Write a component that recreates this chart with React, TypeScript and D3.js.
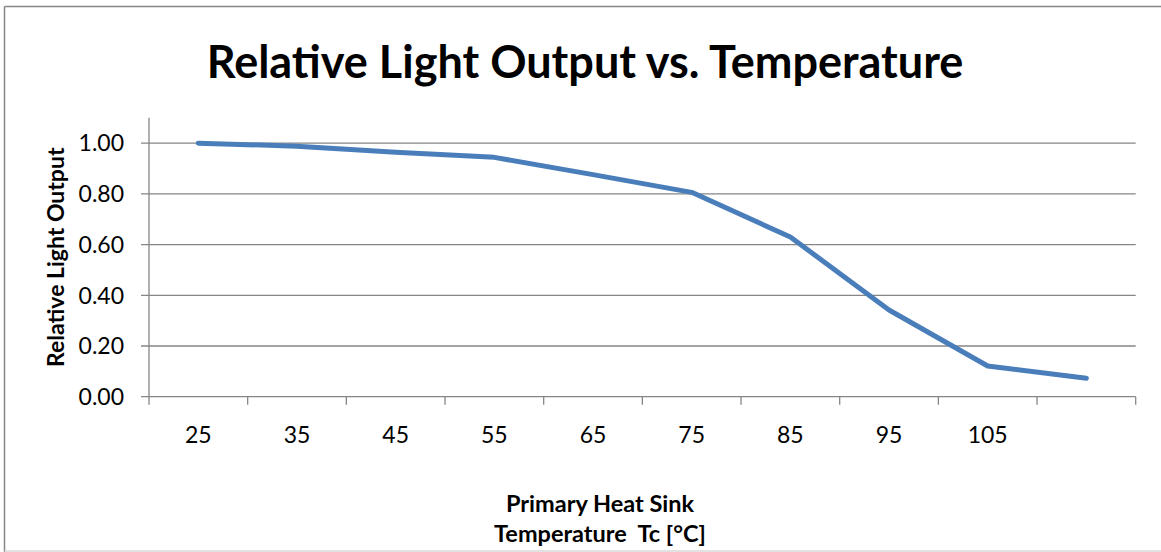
import * as d3 from 'd3';

// values
const categoryLabels = ['25', '35', '45', '55', '65', '75', '85', '95', '105', ''];
const relativeOutput = [1.0, 0.988, 0.964, 0.944, 0.876, 0.806, 0.63, 0.342, 0.121, 0.073];
const yTicks = [0, 0.2, 0.4, 0.6, 0.8, 1.0];

const chartTitle = 'Relative Light Output vs. Temperature';
const yTitle = 'Relative Light Output';
const xTitleLines = ['Primary Heat Sink', 'Temperature  Tc [°C]'];

const WIDTH = 1161;
const HEIGHT = 552;
const plot = { left: 149, right: 1135.7, top: 117.8, bottom: 396.7 };

const FONT = 'Lato, "Open Sans", sans-serif';
const GRID = '#868686';
const LINE = '#4a7ebb';

export default function App() {
  const idx = d3.range(categoryLabels.length);

  const x = d3.scaleBand<number>()
    .domain(idx)
    .range([plot.left, plot.right]);

  const y = d3.scaleLinear()
    .domain([0, 1.1])
    .range([plot.bottom, plot.top]);

  const line = d3.line<number>()
    .x((_, i) => (x(i) as number) + x.bandwidth() / 2)
    .y(d => y(d));

  const fmt = d3.format('.2f');
  const xTickPos = [...idx.map(i => x(i) as number), plot.right];

  return (
    <svg
      width={WIDTH}
      height={HEIGHT}
      style={{ position: 'absolute', left: 0, top: 0, background: '#fff' }}
      fontFamily={FONT}
    >
      {/* chart area frame */}
      <line x1={4.5} y1={6.5} x2={WIDTH} y2={6.5} stroke={GRID} strokeWidth={1.5} />
      <line x1={4.5} y1={6.5} x2={4.5} y2={HEIGHT} stroke={GRID} strokeWidth={1.5} />
      <line x1={4.5} y1={551} x2={WIDTH} y2={551} stroke="#d9d9d9" strokeWidth={1.5} />

      <text x={585} y={78} textAnchor="middle" fontSize={45} fontWeight="bold" fill="#000">
        {chartTitle}
      </text>

      {/* horizontal gridlines + y ticks */}
      {yTicks.map(t => (
        <g key={t}>
          <line x1={plot.left - 8} x2={plot.right} y1={y(t)} y2={y(t)} stroke={GRID} strokeWidth={1.3} />
          <text x={124} y={y(t)} dy="0.36em" textAnchor="end" fontSize={23} fill="#000">
            {fmt(t)}
          </text>
        </g>
      ))}

      {/* y axis line */}
      <line x1={plot.left} x2={plot.left} y1={plot.top} y2={plot.bottom} stroke={GRID} strokeWidth={1.3} />

      {/* x ticks */}
      {xTickPos.map((p, i) => (
        <line key={i} x1={p} x2={p} y1={plot.bottom} y2={plot.bottom + 8} stroke={GRID} strokeWidth={1.3} />
      ))}
      {idx.map(i => (
        <text
          key={i}
          x={(x(i) as number) + x.bandwidth() / 2}
          y={443}
          textAnchor="middle"
          fontSize={23}
          fill="#000"
        >
          {categoryLabels[i]}
        </text>
      ))}

      <path
        d={line(relativeOutput) ?? ''}
        fill="none"
        stroke={LINE}
        strokeWidth={5}
        strokeLinejoin="round"
        strokeLinecap="round"
      />

      <text
        transform={`translate(64,${(plot.top + plot.bottom) / 2}) rotate(-90)`}
        textAnchor="middle"
        fontSize={23}
        fontWeight="bold"
        fill="#000"
      >
        {yTitle}
      </text>

      {xTitleLines.map((s, i) => (
        <text
          key={s}
          x={600}
          y={511.7 + i * 30}
          textAnchor="middle"
          fontSize={23.5}
          fontWeight="bold"
          fill="#000"
          style={{ whiteSpace: 'pre' }}
        >
          {s}
        </text>
      ))}
    </svg>
  );
}
